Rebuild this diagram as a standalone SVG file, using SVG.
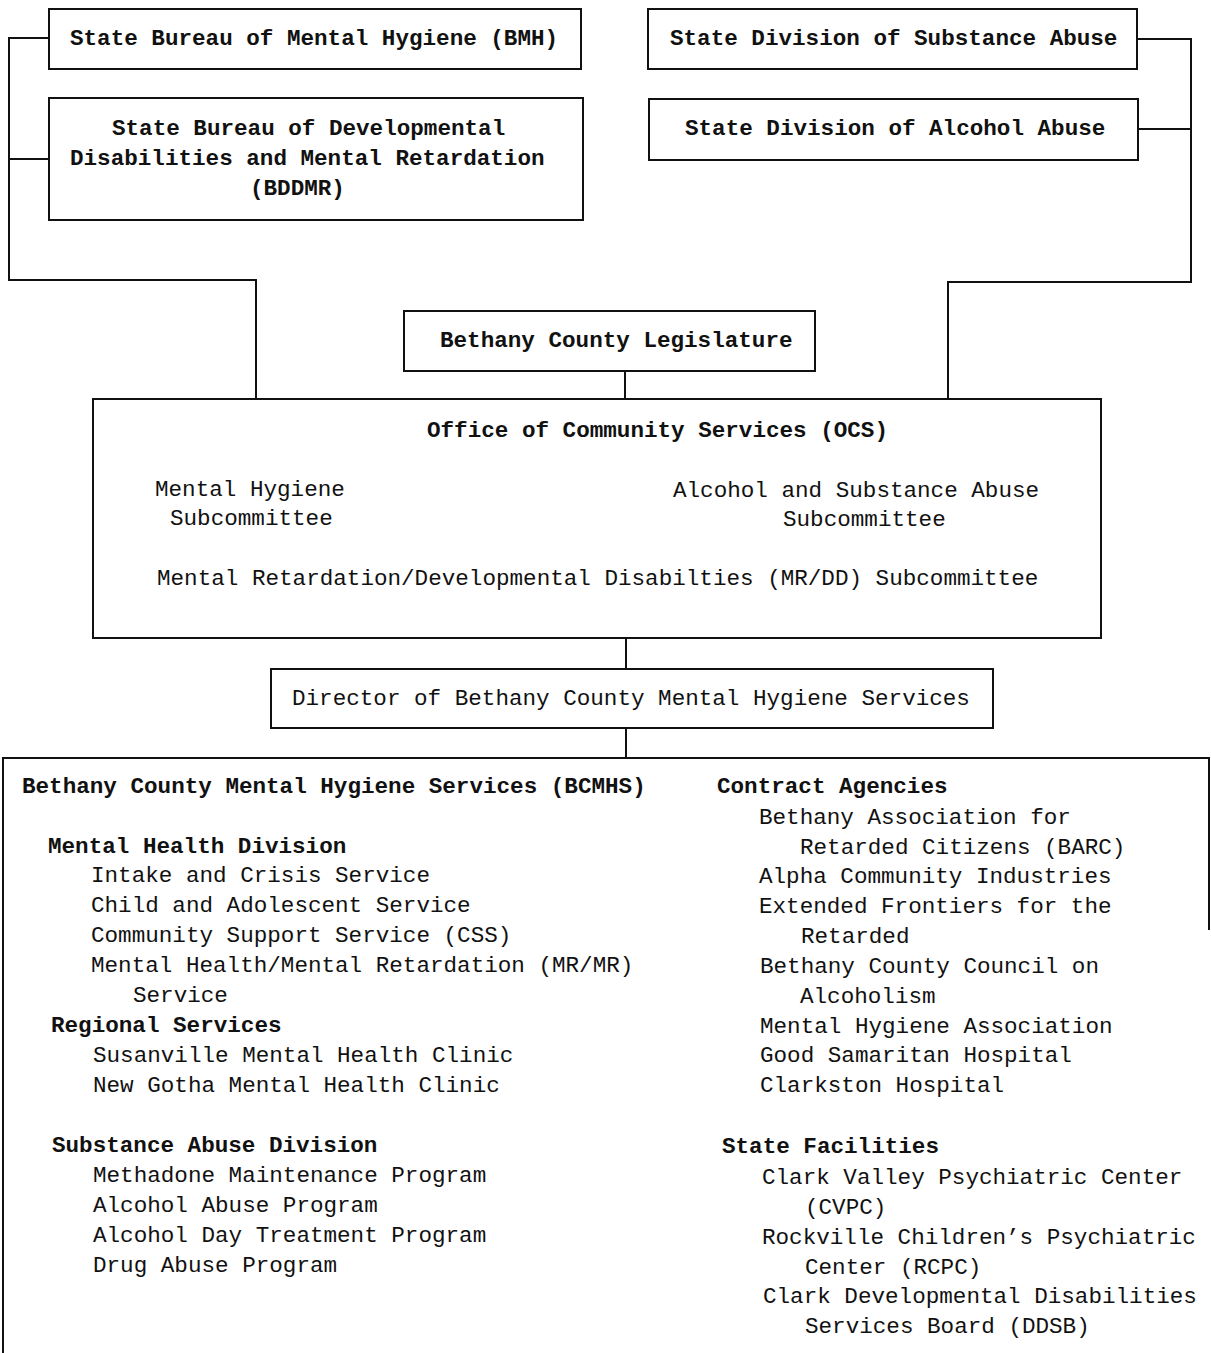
<svg xmlns="http://www.w3.org/2000/svg" width="1211" height="1353" viewBox="0 0 1211 1353">
<style>
  text { font-family: "Liberation Mono", "DejaVu Sans Mono", monospace; font-size: 22.6px; fill: #111; }
  .b { font-weight: bold; }
  .box { fill: none; stroke: #111; stroke-width: 2; }
  .ln { fill: none; stroke: #111; stroke-width: 2; }
</style>
<rect width="1211" height="1353" fill="#fff"/>
<g id="connectors">
  <polyline class="ln" points="49,38 9,38 9,280 256,280 256,400"/>
  <line class="ln" x1="9" y1="159" x2="49" y2="159"/>
  <polyline class="ln" points="1137,39 1191,39 1191,282 948,282 948,400"/>
  <line class="ln" x1="1138" y1="129" x2="1191" y2="129"/>
  <line class="ln" x1="625" y1="371" x2="625" y2="400"/>
  <line class="ln" x1="626" y1="638" x2="626" y2="669"/>
  <line class="ln" x1="626" y1="728" x2="626" y2="758"/>
</g>
<g id="bmh">
  <rect class="box" x="49" y="9" width="532" height="60"/>
  <text class="b" x="70" y="45">State Bureau of Mental Hygiene (BMH)</text>
</g>
<g id="bddmr">
  <rect class="box" x="49" y="98" width="534" height="122"/>
  <text class="b" x="112" y="135">State Bureau of Developmental</text>
  <text class="b" x="70" y="165">Disabilities and Mental Retardation</text>
  <text class="b" x="250" y="195">(BDDMR)</text>
</g>
<g id="substance">
  <rect class="box" x="648" y="9" width="489" height="60"/>
  <text class="b" x="670" y="45">State Division of Substance Abuse</text>
</g>
<g id="alcohol">
  <rect class="box" x="649" y="99" width="489" height="61"/>
  <text class="b" x="685" y="135">State Division of Alcohol Abuse</text>
</g>
<g id="legislature">
  <rect class="box" x="404" y="311" width="411" height="60"/>
  <text class="b" x="440" y="347">Bethany County Legislature</text>
</g>
<g id="ocs">
  <rect class="box" x="93" y="399" width="1008" height="239"/>
  <text class="b" x="427" y="437">Office of Community Services (OCS)</text>
  <text x="155" y="496">Mental Hygiene</text>
  <text x="170" y="525">Subcommittee</text>
  <text x="673" y="497">Alcohol and Substance Abuse</text>
  <text x="783" y="526">Subcommittee</text>
  <text x="157" y="585">Mental Retardation/Developmental Disabilties (MR/DD) Subcommittee</text>
</g>
<g id="director">
  <rect class="box" x="271" y="669" width="722" height="59"/>
  <text x="292" y="705">Director of Bethany County Mental Hygiene Services</text>
</g>
<g id="bcmhs">
  <polyline class="ln" points="3,1353 3,758 1209,758 1209,930"/>
  <text class="b" x="22" y="793">Bethany County Mental Hygiene Services (BCMHS)</text>
  <text class="b" x="48" y="853">Mental Health Division</text>
  <text x="91" y="882">Intake and Crisis Service</text>
  <text x="91" y="912">Child and Adolescent Service</text>
  <text x="91" y="942">Community Support Service (CSS)</text>
  <text x="91" y="972">Mental Health/Mental Retardation (MR/MR)</text>
  <text x="133" y="1002">Service</text>
  <text class="b" x="51" y="1032">Regional Services</text>
  <text x="93" y="1062">Susanville Mental Health Clinic</text>
  <text x="93" y="1092">New Gotha Mental Health Clinic</text>
  <text class="b" x="52" y="1152">Substance Abuse Division</text>
  <text x="93" y="1182">Methadone Maintenance Program</text>
  <text x="93" y="1212">Alcohol Abuse Program</text>
  <text x="93" y="1242">Alcohol Day Treatment Program</text>
  <text x="93" y="1272">Drug Abuse Program</text>
  <text class="b" x="717" y="793">Contract Agencies</text>
  <text x="759" y="824">Bethany Association for</text>
  <text x="800" y="854">Retarded Citizens (BARC)</text>
  <text x="759" y="883">Alpha Community Industries</text>
  <text x="759" y="913">Extended Frontiers for the</text>
  <text x="801" y="943">Retarded</text>
  <text x="760" y="973">Bethany County Council on</text>
  <text x="800" y="1003">Alcoholism</text>
  <text x="760" y="1033">Mental Hygiene Association</text>
  <text x="760" y="1062">Good Samaritan Hospital</text>
  <text x="760" y="1092">Clarkston Hospital</text>
  <text class="b" x="722" y="1153">State Facilities</text>
  <text x="762" y="1184">Clark Valley Psychiatric Center</text>
  <text x="805" y="1214">(CVPC)</text>
  <text x="762" y="1244">Rockville Children’s Psychiatric</text>
  <text x="805" y="1274">Center (RCPC)</text>
  <text x="763" y="1303">Clark Developmental Disabilities</text>
  <text x="805" y="1333">Services Board (DDSB)</text>
</g>
</svg>
